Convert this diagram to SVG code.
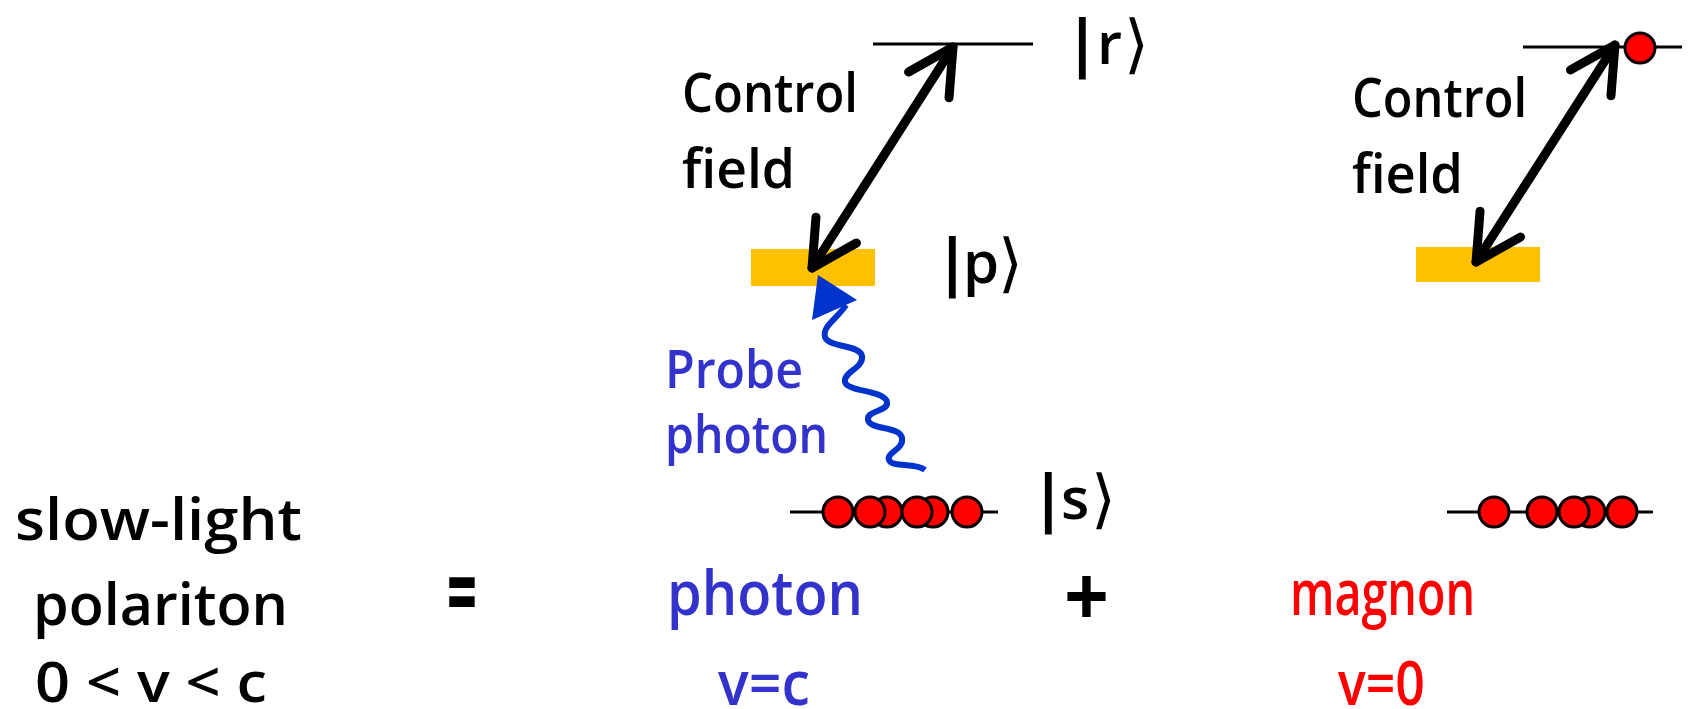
<svg xmlns="http://www.w3.org/2000/svg" width="1690" height="709" viewBox="0 0 1690 709">
<defs>
<style>
.t{font-family:"Open Sans","Noto Sans","DejaVu Sans",sans-serif;font-weight:600;}
.b{font-weight:700;}
.k{font-family:"Open Sans","DejaVu Sans",sans-serif;font-weight:600;font-size:58px;fill:#000;}
.bar{font-family:"DejaVu Sans",sans-serif;font-weight:700;font-size:62px;}
.ang{font-family:"DejaVu Sans","Noto Sans CJK SC",sans-serif;font-weight:400;font-size:64px;}
.blk{fill:#000;}
.blu{fill:#3333CC;}
.red{fill:#FF0000;}
.lvl{stroke:#000;stroke-width:3;fill:none;}
.orange{fill:#FFC000;}
.atom{fill:#FF0000;stroke:#000;stroke-width:3;}
.ctrl{stroke:#000;stroke-width:9;fill:none;stroke-linecap:round;stroke-linejoin:round;}
</style>
<marker id="chev" markerUnits="userSpaceOnUse" orient="auto-start-reverse" viewBox="-60 -40 80 80" markerWidth="80" markerHeight="80" refX="0" refY="0" overflow="visible">
<path d="M -45,-24 L 0,0 L -45,24" fill="none" stroke="#000" stroke-width="9" stroke-linecap="round" stroke-linejoin="round"/>
</marker>
</defs>

<g id="level-r-left">
<line class="lvl" x1="873" y1="44" x2="1033" y2="44"/>
<text class="k"><tspan class="bar" x="1071" y="64">|</tspan><tspan x="1097" y="64">r</tspan><tspan class="ang" x="1124" y="66">⟩</tspan></text>
</g>

<g id="level-p-left">
<rect class="orange" x="751" y="249" width="124" height="37"/>
<text class="k"><tspan class="bar" x="941" y="283">|</tspan><tspan x="963" y="283">p</tspan><tspan class="ang" x="998" y="285">⟩</tspan></text>
</g>

<g id="level-s-left">
<line class="lvl" x1="790" y1="512" x2="998" y2="512"/>
<circle class="atom" cx="887" cy="512" r="15"/>
<circle class="atom" cx="933" cy="512" r="15"/>
<circle class="atom" cx="838" cy="512" r="15"/>
<circle class="atom" cx="870" cy="512" r="15"/>
<circle class="atom" cx="917" cy="512" r="15"/>
<circle class="atom" cx="967" cy="512" r="15"/>
<text class="k"><tspan class="bar" x="1037" y="519">|</tspan><tspan x="1061" y="519">s</tspan><tspan class="ang" x="1091" y="521">⟩</tspan></text>
</g>

<g id="label-control-left">
<text class="t blk" font-size="54" x="682" y="112" textLength="176" lengthAdjust="spacingAndGlyphs">Control</text>
<text class="t blk" font-size="54" x="682" y="188" textLength="113" lengthAdjust="spacingAndGlyphs">field</text>
</g>

<g id="label-probe">
<text class="t blu" font-size="52" x="665" y="388" textLength="138" lengthAdjust="spacingAndGlyphs">Probe</text>
<text class="t blu" font-size="52" x="665" y="453" textLength="163" lengthAdjust="spacingAndGlyphs">photon</text>
</g>

<g id="level-r-right">
<line class="lvl" x1="1523" y1="47" x2="1682" y2="47"/>
<circle class="atom" cx="1640" cy="48" r="15"/>
</g>

<g id="level-p-right">
<rect class="orange" x="1416" y="247" width="124" height="35"/>
</g>

<g id="level-s-right">
<line class="lvl" x1="1447" y1="512" x2="1653" y2="512"/>
<circle class="atom" cx="1590" cy="512" r="15"/>
<circle class="atom" cx="1494" cy="512" r="15"/>
<circle class="atom" cx="1542" cy="512" r="15"/>
<circle class="atom" cx="1574" cy="512" r="15"/>
<circle class="atom" cx="1622" cy="512" r="15"/>
</g>

<g id="label-control-right">
<text class="t blk" font-size="54" x="1352" y="117" textLength="175" lengthAdjust="spacingAndGlyphs">Control</text>
<text class="t blk" font-size="54" x="1352" y="193" textLength="111" lengthAdjust="spacingAndGlyphs">field</text>
</g>

<g id="label-polariton">
<text class="t blk" font-size="58" x="15" y="540" textLength="287" lengthAdjust="spacingAndGlyphs">slow-light</text>
<text class="t blk" font-size="58" x="33" y="625" textLength="255" lengthAdjust="spacingAndGlyphs">polariton</text>
<text class="t blk" font-size="56" x="35" y="702" textLength="232" lengthAdjust="spacingAndGlyphs">0 &lt; v &lt; c</text>
</g>

<g id="label-equals">
<text class="t b blk" font-size="100" x="447" y="628" textLength="30" lengthAdjust="spacingAndGlyphs">=</text>
</g>

<g id="label-photon">
<text class="t blu" font-size="62" x="667" y="615" textLength="196" lengthAdjust="spacingAndGlyphs">photon</text>
<text class="t blu" font-size="62" x="718" y="705" textLength="92" lengthAdjust="spacingAndGlyphs">v=c</text>
</g>

<g id="label-plus">
<text class="t b blk" font-size="84" x="1064" y="626" textLength="45" lengthAdjust="spacingAndGlyphs">+</text>
</g>

<g id="label-magnon">
<text class="t red" font-size="64" x="1290" y="615" textLength="185" lengthAdjust="spacingAndGlyphs">magnon</text>
<text class="t red" font-size="62" x="1338" y="705" textLength="87" lengthAdjust="spacingAndGlyphs">v=0</text>
</g>

<g id="connectors">
<line class="ctrl" x1="953" y1="47" x2="812" y2="268" marker-start="url(#chev)" marker-end="url(#chev)"/>
<line class="ctrl" x1="1615" y1="45" x2="1476" y2="262" marker-start="url(#chev)" marker-end="url(#chev)"/>
<path d="M 846,305 C 838,318 822,326 825,337 C 828,348 860,344 862,356 C 864,368 843,372 845,382 C 847,392 885,390 887,402 C 889,412 866,410 868,420 C 870,430 900,426 902,438 C 904,450 886,452 889,460 C 892,468 915,462 925,470" fill="none" stroke="#0033CC" stroke-width="6"/>
<polygon points="818,275 857,300 812,320" fill="#0033CC"/>
</g>
</svg>
